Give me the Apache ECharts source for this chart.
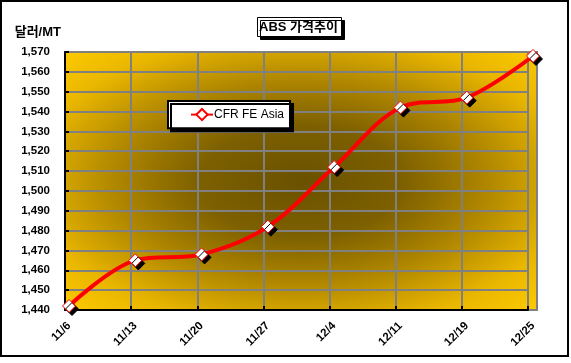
<!DOCTYPE html>
<html><head><meta charset="utf-8">
<script src="https://cdn.jsdelivr.net/npm/echarts@6/dist/echarts.min.js"></script>
<style>html,body{margin:0;padding:0;background:#fff}#c{width:571px;height:363px}</style>
</head><body><div id="c"></div>
<script>
const categories = ['11/6','11/13','11/20','11/27','12/4','12/11','12/19','12/25'];
const cfrFeAsia = [1442,1465,1468,1482,1512,1542,1547,1568];
const yMin = 1440, yMax = 1570, yStep = 10;
const seriesName = 'CFR FE Asia';
const titleText = 'ABS 가격추이';
const yAxisName = '달러/MT';

const FONT = "'Liberation Sans', Arial, 'Noto Sans CJK KR', sans-serif";
const chart = echarts.init(document.getElementById('c'), null, {renderer:'canvas'});

chart.setOption({
  animation: false,
  backgroundColor: '#fff',
  title: {
    text: titleText, left: 257, top: 17,
    padding: [4, 4, 3, 2],
    backgroundColor: '#fff', borderColor: '#000', borderWidth: 1,
    shadowColor: '#000', shadowOffsetX: 3, shadowOffsetY: 3, shadowBlur: 0,
    textStyle: {fontFamily: FONT, fontWeight: 'bold', fontSize: 13, color: '#000'}
  },
  legend: {
    left: 168, top: 101, padding: [7, 6, 7, 22],
    itemWidth: 22, itemHeight: 14, itemGap: 2,
    backgroundColor: '#fff', borderColor: '#000', borderWidth: 2,
    shadowColor: '#000', shadowOffsetX: 3, shadowOffsetY: 3, shadowBlur: 0,
    textStyle: {fontFamily: FONT, fontSize: 12, color: '#000', padding: [0,0,0,-4]},
    data: [seriesName]
  },
  grid: [
    {left: 69, right: 38, top: 52, bottom: 53},
    {left: 65, right: 43, top: 52, bottom: 53}
  ],
  xAxis: [
    {type: 'category', gridIndex: 0, data: categories, boundaryGap: false,
     axisLine: {show: false}, axisTick: {show: false}, splitLine: {show: false},
     axisLabel: {rotate: 45, margin: 14, fontFamily: FONT, fontWeight: 'bold', fontSize: 11.5, color: '#000'}},
    {type: 'category', gridIndex: 1, data: categories, boundaryGap: false,
     axisLine: {show: true, lineStyle: {color: '#000', width: 2}},
     axisTick: {show: true, inside: true, length: 4, lineStyle: {color: '#000', width: 2}},
     axisLabel: {show: false},
     splitLine: {show: true, lineStyle: {color: '#808080', width: 2}}}
  ],
  yAxis: [
    {type: 'value', gridIndex: 0, min: yMin, max: yMax, interval: yStep, show: false},
    {type: 'value', gridIndex: 1, min: yMin, max: yMax, interval: yStep,
     name: yAxisName, nameLocation: 'end', nameGap: 20,
     nameTextStyle: {fontFamily: FONT, fontWeight: 'bold', fontSize: 13, color: '#000', align: 'right', verticalAlign: 'middle', padding: [0, 4, 0, 0]},
     axisLine: {show: true, lineStyle: {color: '#000', width: 2}},
     axisTick: {show: true, inside: true, length: 4, lineStyle: {color: '#000', width: 2}},
     axisLabel: {margin: 15, fontFamily: FONT, fontWeight: 'bold', fontSize: 11.5, color: '#000',
       formatter: v => v.toLocaleString('en-US')},
     splitLine: {show: true, lineStyle: {color: '#808080', width: 2}}}
  ],
  graphic: [
    {type: 'rect', z: -10, silent: true,
     shape: {x: 65, y: 52, width: 472, height: 258}, style: {fill: '#FFCC00'}},
    {type: 'rect', z: -9, silent: true, x: 65, y: 52, scaleY: 258/472,
     shape: {x: 0, y: 0, width: 472, height: 472},
     style: {fill: new echarts.graphic.RadialGradient(0.5, 0.5, 0.72, [
        {offset: 0, color: '#6A5100'},
        {offset: 0.3, color: '#7D6000'},
        {offset: 0.55, color: '#B08700'},
        {offset: 0.8, color: '#EAB700'},
        {offset: 1, color: '#FFCC00'}])}},
    {type: 'rect', z: -5, silent: true,
     shape: {x: 65, y: 52, width: 472, height: 258}, style: {fill: 'none', stroke: '#808080', lineWidth: 2}},
    {type: 'rect', z: -4, silent: true,
     shape: {x: 1, y: 1, width: 567, height: 355}, style: {fill: 'none', stroke: '#000', lineWidth: 2}}
  ],
  series: [{
    name: seriesName, type: 'line', xAxisIndex: 0, yAxisIndex: 0,
    data: cfrFeAsia, smooth: 0.35,
    symbol: 'diamond', symbolSize: 13,
    lineStyle: {color: '#FF0000', width: 4},
    itemStyle: {color: '#fff', borderColor: '#FF0000', borderWidth: 1,
      shadowColor: '#000', shadowOffsetX: 3, shadowOffsetY: 3, shadowBlur: 0},
    emphasis: {disabled: true}
  }]
});
</script></body></html>
